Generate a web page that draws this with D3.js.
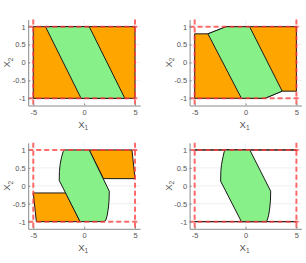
<!DOCTYPE html>
<html>
<head>
<meta charset="utf-8">
<script src="https://cdn.jsdelivr.net/npm/d3@7"></script>
<style>
  body { margin: 0; background: #fff; }
  svg { display: block; font-family: "Liberation Sans", Arial, sans-serif; }
</style>
</head>
<body>
<svg id="chart" width="306" height="263"></svg>
<script>
// ticks
var xTicks = [-5, 0, 5];
var yTicks = [-1, -0.5, 0, 0.5, 1];
var xLim = [-5.5, 5.5];
var yLim = [-1.2, 1.2];
var bounds = { x: [-5, 5], y: [-1, 1] };

// orange sets (one list of polygons per panel)
var orange1 = [[[-5, -1], [-5, 1], [5, 1], [5, -1]]];
var orange2 = [[[-5, -1], [-5, 0.8], [-3.7, 0.8], [-1.9, 1], [5, 1], [5, -0.8], [3.6, -0.8], [1.9, -1]]];
var orange3 = [
  [[-5, -0.2], [-1.8, -0.2], [-0.4, -1], [-4.7, -1]],
  [[0.5, 1], [4.7, 1], [5, 0.2], [1.9, 0.2]]
];
var orange4 = [
  [[-5, 1], [5, 1]],
  [[-5, -1], [5, -1]]
];

// green sets
var green1 = [[-3.8, 1], [0.5, 1], [4.0, -1], [-0.3, -1]];
var green2 = [[-3.7, 0.8], [-1.9, 1], [0.4, 1], [3.6, -0.8], [1.9, -1], [-0.4, -1]];
var green3 = [[-1.9, 1], [0.5, 1], [2.47, -0.15], [2.45, -0.4], [2.38, -0.62], [2.27, -0.82], [2.13, -0.96], [1.95, -1],
              [-0.4, -1], [-2.45, 0.15], [-2.43, 0.4], [-2.36, 0.6], [-2.22, 0.8], [-2.07, 0.95]];
var green4 = [[-1.95, 1], [0.42, 1], [2.47, -0.15], [2.45, -0.4], [2.38, -0.62], [2.27, -0.82], [2.13, -0.96], [2.0, -1],
              [-0.41, -1], [-2.45, 0.13], [-2.43, 0.4], [-2.36, 0.6], [-2.22, 0.8], [-2.1, 0.95]];

var panels = [
  { left: 28.2, top: 19.5, orange: orange1, green: green1 },
  { left: 189.6, top: 19.5, orange: orange2, green: green2 },
  { left: 28.2, top: 142.8, orange: orange3, green: green3 },
  { left: 189.6, top: 142.8, orange: orange4, green: green4 }
];
var w = 111.9, h = 86;

// matlab style tick text: 1, 0.5, -1 with plain hyphen
var fmt = function(d) { return String(d); };

var svg = d3.select("#chart");

panels.forEach(function(p) {
  var x = d3.scaleLinear().domain(xLim).range([0, w]);
  var y = d3.scaleLinear().domain(yLim).range([h, 0]);
  var g = svg.append("g").attr("transform", "translate(" + p.left + "," + p.top + ")");

  //grid
  g.selectAll(".gy").data(yTicks).enter().append("line")
    .attr("x1", 0).attr("x2", w)
    .attr("y1", function(d) { return y(d); }).attr("y2", function(d) { return y(d); })
    .attr("stroke", "#ebebeb").attr("stroke-width", 0.8);
  g.selectAll(".gx").data(xTicks).enter().append("line")
    .attr("y1", 0).attr("y2", h)
    .attr("x1", function(d) { return x(d); }).attr("x2", function(d) { return x(d); })
    .attr("stroke", "#ebebeb").attr("stroke-width", 0.8);

  var line = d3.line().x(function(d) { return x(d[0]); }).y(function(d) { return y(d[1]); });

  //orange
  g.selectAll(".orange").data(p.orange).enter().append("path")
    .attr("d", function(d) { return line(d) + "Z"; })
    .attr("fill", "#ffa500")
    .attr("stroke", "#1a1a1a").attr("stroke-width", 1);

  //green
  g.append("path")
    .attr("d", line(p.green) + "Z")
    .attr("fill", "#88f088")
    .attr("stroke", "#1a1a1a").attr("stroke-width", 1)
    .attr("stroke-linejoin", "round");

  //red dashed bounds
  bounds.x.forEach(function(v) {
    g.append("line").attr("x1", x(v)).attr("x2", x(v)).attr("y1", 0).attr("y2", h)
      .attr("stroke", "#ff3b3b").attr("stroke-opacity", 0.75)
      .attr("stroke-width", 2).attr("stroke-dasharray", "5,3");
  });
  bounds.y.forEach(function(v) {
    g.append("line").attr("y1", y(v)).attr("y2", y(v)).attr("x1", 0).attr("x2", w)
      .attr("stroke", "#ff3b3b").attr("stroke-opacity", 0.75)
      .attr("stroke-width", 2).attr("stroke-dasharray", "5,3");
  });

  //axes
  var xAxis = g.append("g").attr("transform", "translate(0," + h + ")")
    .call(d3.axisBottom(x).tickValues(xTicks).tickFormat(fmt).tickSizeInner(-2).tickSizeOuter(0).tickPadding(4));
  var yAxis = g.append("g")
    .call(d3.axisLeft(y).tickValues(yTicks).tickFormat(fmt).tickSizeInner(-2).tickSizeOuter(0).tickPadding(2.5));
  [xAxis, yAxis].forEach(function(a) {
    a.select(".domain").attr("stroke", "#8a8a8a");
    a.selectAll(".tick line").attr("stroke", "#8a8a8a");
    a.selectAll("text").attr("fill", "#555").attr("font-size", 7.5)
      .attr("font-family", "Liberation Sans, Arial, sans-serif");
  });

  //labels
  var xl = g.append("text").attr("x", w / 2 - 1).attr("y", h + 22)
    .attr("text-anchor", "middle").attr("fill", "#555").attr("font-size", 9.5);
  xl.append("tspan").text("X");
  xl.append("tspan").attr("font-size", 6.5).attr("dy", 2.5).text("1");

  var yl = g.append("text")
    .attr("transform", "translate(-18," + (h / 2) + ") rotate(-90)")
    .attr("text-anchor", "middle").attr("fill", "#555").attr("font-size", 9.5);
  yl.append("tspan").text("X");
  yl.append("tspan").attr("font-size", 6.5).attr("dy", 2.5).text("2");
});
</script>
</body>
</html>
